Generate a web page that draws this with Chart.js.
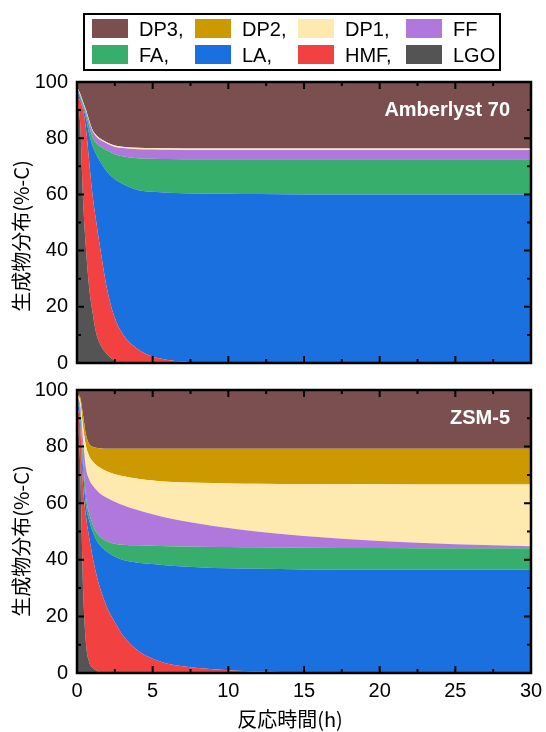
<!DOCTYPE html>
<html>
<head>
<meta charset="utf-8">
<script src="https://cdn.jsdelivr.net/npm/chart.js@4"></script>
<style>
  body { margin: 0; background: #fff; }
  #page { position: relative; width: 546px; height: 732px; overflow: hidden; font-family: "Liberation Sans", Arial, sans-serif; }
  #page canvas { position: absolute; left: 0; }
  #legendBox { position: absolute; left: 83px; top: 13px; width: 418px; height: 58px; border: 2.5px solid #000; box-sizing: border-box; }
  .sw { position: absolute; width: 36px; height: 19px; }
  .lt { position: absolute; font-size: 20px; line-height: 20px; color: #000; white-space: nowrap; }
  .title { position: absolute; font-family: "Noto Sans CJK JP", sans-serif; font-size: 20px; color: #000; white-space: nowrap; transform: translate(-50%, -50%); }
  .ytitle { transform: translate(-50%, -50%) rotate(-90deg); }
</style>
</head>
<body>
<div id="page">
  <div id="legendBox"></div>
  <canvas id="chartA" width="546" height="375" style="top:0"></canvas>
  <canvas id="chartZ" width="546" height="357" style="top:375px"></canvas>
  <div class="title ytitle" style="left:20px; top:236px">生成物分布(%-C)</div>
  <div class="title ytitle" style="left:20px; top:541px">生成物分布(%-C)</div>
  <div class="title" style="left:290px; top:718px">反応時間(h)</div>
</div>
<script>
// reaction time (h)
const hours = [0, 0.2, 0.4, 0.6, 0.8, 1, 1.25, 1.5, 2, 2.5, 3, 4, 5, 6, 8, 10, 12, 15, 20, 25, 30];

// Amberlyst 70, product distribution (%-C)
const lgoA = [93, 86, 58, 40, 27, 19, 11, 7, 3, 0.8, 0.2, 0, 0, 0, 0, 0, 0, 0, 0, 0, 0];
const hmfA = [2, 7.5, 32, 43, 45, 42, 40, 35, 23, 15.2, 10.3, 5, 2.3, 1.1, 0.3, 0, 0, 0, 0, 0, 0];
const laA  = [1.5, 1, 1, 4, 9.5, 16.8, 23.5, 30, 42, 49.5, 53.3, 56.6, 58.6, 59.5, 60, 60.2, 60.1, 60, 60, 60, 60];
const faA  = [1, 0.5, 1, 1.5, 3, 3, 4, 5.2, 7.6, 8.8, 9.8, 11.3, 11.8, 12, 12.2, 12.3, 12.4, 12.5, 12.5, 12.5, 12.5];
const ffA  = [0.5, 0.5, 0.5, 1, 1.5, 2, 2.2, 2.3, 2.4, 2.6, 2.9, 3.2, 3.3, 3.3, 3.3, 3.3, 3.3, 3.3, 3.3, 3.3, 3.3];
const dp1A = [0.5, 0.5, 0.5, 0.5, 0.5, 0.5, 0.5, 0.5, 0.5, 0.5, 0.5, 0.5, 0.5, 0.5, 0.5, 0.5, 0.5, 0.5, 0.5, 0.5, 0.5];
const dp2A = [0, 0, 0, 0, 0, 0, 0, 0, 0, 0, 0, 0, 0, 0, 0, 0, 0, 0, 0, 0, 0];
const dp3A = [1.5, 4, 7, 10, 13.5, 16.7, 18.8, 20, 21.5, 22.6, 23, 23.4, 23.5, 23.6, 23.7, 23.7, 23.7, 23.7, 23.7, 23.7, 23.7];

// ZSM-5, product distribution (%-C)
const lgoZ = [92, 75, 30, 10, 4, 2, 1, 0.3, 0, 0, 0, 0, 0, 0, 0, 0, 0, 0, 0, 0, 0];
const hmfZ = [3, 13, 36, 45, 44, 40, 34.5, 30.2, 23, 18, 13.5, 8, 5, 3.3, 1.8, 1, 0.5, 0.2, 0, 0, 0];
const laZ  = [1.5, 3, 6, 4, 6, 8.5, 11.8, 14.8, 19.8, 23.2, 26.5, 31, 33.5, 34.7, 35.6, 36, 36.3, 36.4, 36.5, 36.5, 36.5];
const faZ  = [0.5, 2, 4, 3, 2.5, 2.5, 2.7, 3, 3.7, 4.5, 5.3, 6.1, 6.5, 6.8, 7.2, 7.5, 7.6, 7.7, 7.7, 7.6, 7.6];
const ffZ  = [0.5, 2, 6, 10, 12, 13.5, 14.8, 15.2, 15.3, 14.8, 14.1, 12.5, 11.1, 10, 8.2, 6.7, 5.5, 4.1, 2.4, 1.4, 0.7];
const dp1Z = [0.5, 1.5, 5, 8, 8.3, 8.5, 8.8, 9.1, 9.4, 9.7, 10.2, 11, 11.9, 12.8, 14.4, 15.8, 17, 18.4, 20.1, 21.1, 21.8];
const dp2Z = [0.5, 1, 4, 4, 4.2, 5, 6, 6.8, 8, 9, 9.6, 10.6, 11.2, 11.6, 12, 12.2, 12.3, 12.4, 12.5, 12.6, 12.6];
const dp3Z = [1.5, 2.5, 9, 16, 19, 20, 20.4, 20.6, 20.8, 20.8, 20.8, 20.8, 20.8, 20.8, 20.8, 20.8, 20.8, 20.8, 20.8, 20.8, 20.8];

// stacking order, bottom to top
const products = ['LGO', 'HMF', 'LA', 'FA', 'FF', 'DP1', 'DP2', 'DP3'];
const colors   = ['#545454', '#F24141', '#1A70DE', '#37AE6B', '#B077DC', '#FEEAAE', '#CC9900', '#7B4F4F'];

// legend layout as in the figure
const legendOrder  = ['DP3', 'DP2', 'DP1', 'FF', 'FA', 'LA', 'HMF', 'LGO'];
const legendLabels = ['DP3,', 'DP2,', 'DP1,', 'FF', 'FA,', 'LA,', 'HMF,', 'LGO'];

const xTicks = [0, 5, 10, 15, 20, 25, 30];
const yTicks = [0, 20, 40, 60, 80, 100];

// legend
const page = document.getElementById('page');
const colX = [92, 195, 298, 406];
const rowY = [19, 45];
legendOrder.forEach((name, i) => {
  const col = i % 4, row = Math.floor(i / 4);
  const sw = document.createElement('div');
  sw.className = 'sw';
  sw.style.left = colX[col] + 'px';
  sw.style.top = rowY[row] + 'px';
  sw.style.background = colors[products.indexOf(name)];
  page.appendChild(sw);
  const t = document.createElement('div');
  t.className = 'lt';
  t.textContent = legendLabels[i];
  t.style.left = (colX[col] + 47) + 'px';
  t.style.top = (rowY[row] - 0.5) + 'px';
  page.appendChild(t);
});

// frame with inward ticks on all four sides + panel label
const framePlugin = {
  id: 'frame',
  afterDraw(chart, args, opts) {
    const {ctx, chartArea: a, scales: {x, y}} = chart;
    ctx.save();
    ctx.strokeStyle = '#000';
    ctx.lineWidth = 2;
    ctx.beginPath();
    const tick = (px, len, horiz) => {
      if (horiz) {
        ctx.moveTo(px, a.bottom); ctx.lineTo(px, a.bottom - len);
        ctx.moveTo(px, a.top); ctx.lineTo(px, a.top + len);
      } else {
        ctx.moveTo(a.left, px); ctx.lineTo(a.left + len, px);
        ctx.moveTo(a.right, px); ctx.lineTo(a.right - len, px);
      }
    };
    xTicks.forEach((v, i) => {
      tick(x.getPixelForValue(v), 7, true);
      if (i < xTicks.length - 1) tick(x.getPixelForValue((v + xTicks[i + 1]) / 2), 4, true);
    });
    yTicks.forEach((v, i) => {
      tick(y.getPixelForValue(v), 7, false);
      if (i < yTicks.length - 1) tick(y.getPixelForValue((v + yTicks[i + 1]) / 2), 4, false);
    });
    ctx.stroke();
    ctx.lineWidth = 2.5;
    ctx.strokeRect(a.left, a.top, a.right - a.left, a.bottom - a.top);

    ctx.fillStyle = '#fff';
    ctx.font = 'bold 20px "Liberation Sans", Arial, sans-serif';
    ctx.textAlign = 'right';
    ctx.textBaseline = 'middle';
    ctx.fillText(opts.text, a.right - 21, a.top + 28);
    ctx.restore();
  }
};

function makePanel(id, series, label, showX) {
  const datasets = products.map((name, k) => ({
    label: name,
    data: hours.map((h, i) => ({x: h, y: series[k][i]})),
    backgroundColor: colors[k],
    borderColor: colors[k],
    borderWidth: 0,
    pointRadius: 0,
    cubicInterpolationMode: 'monotone',
    fill: k === 0 ? 'origin' : '-1'
  }));

  return new Chart(document.getElementById(id), {
    type: 'line',
    data: {datasets: datasets},
    plugins: [framePlugin],
    options: {
      responsive: false,
      animation: false,
      layout: {padding: {top: showX ? 15 : 82, right: 15, bottom: showX ? 0 : 12, left: 0}},
      plugins: {
        legend: {display: false},
        tooltip: {enabled: false},
        frame: {text: label}
      },
      scales: {
        x: {
          type: 'linear',
          min: 0,
          max: 30,
          display: showX,
          grid: {display: false, drawTicks: false},
          border: {display: false},
          afterFit: (s) => {
            s.height = showX ? 59 : 0;
            s.paddingLeft = 0; s.paddingRight = 0;
          },
          ticks: {
            stepSize: 5,
            padding: 6,
            color: '#000',
            maxRotation: 0,
            font: {family: '"Liberation Sans", Arial, sans-serif', size: 20}
          }
        },
        y: {
          stacked: true,
          min: 0,
          max: 100,
          grid: {display: false, drawTicks: false},
          border: {display: false},
          afterFit: (s) => {
            s.width = 77;
            s.paddingTop = 0; s.paddingBottom = 0;
          },
          ticks: {
            stepSize: 20,
            padding: 9,
            color: '#000',
            font: {family: '"Liberation Sans", Arial, sans-serif', size: 20}
          }
        }
      }
    }
  });
}

makePanel('chartA', [lgoA, hmfA, laA, faA, ffA, dp1A, dp2A, dp3A], 'Amberlyst 70', false);
makePanel('chartZ', [lgoZ, hmfZ, laZ, faZ, ffZ, dp1Z, dp2Z, dp3Z], 'ZSM-5', true);
</script>
</body>
</html>
